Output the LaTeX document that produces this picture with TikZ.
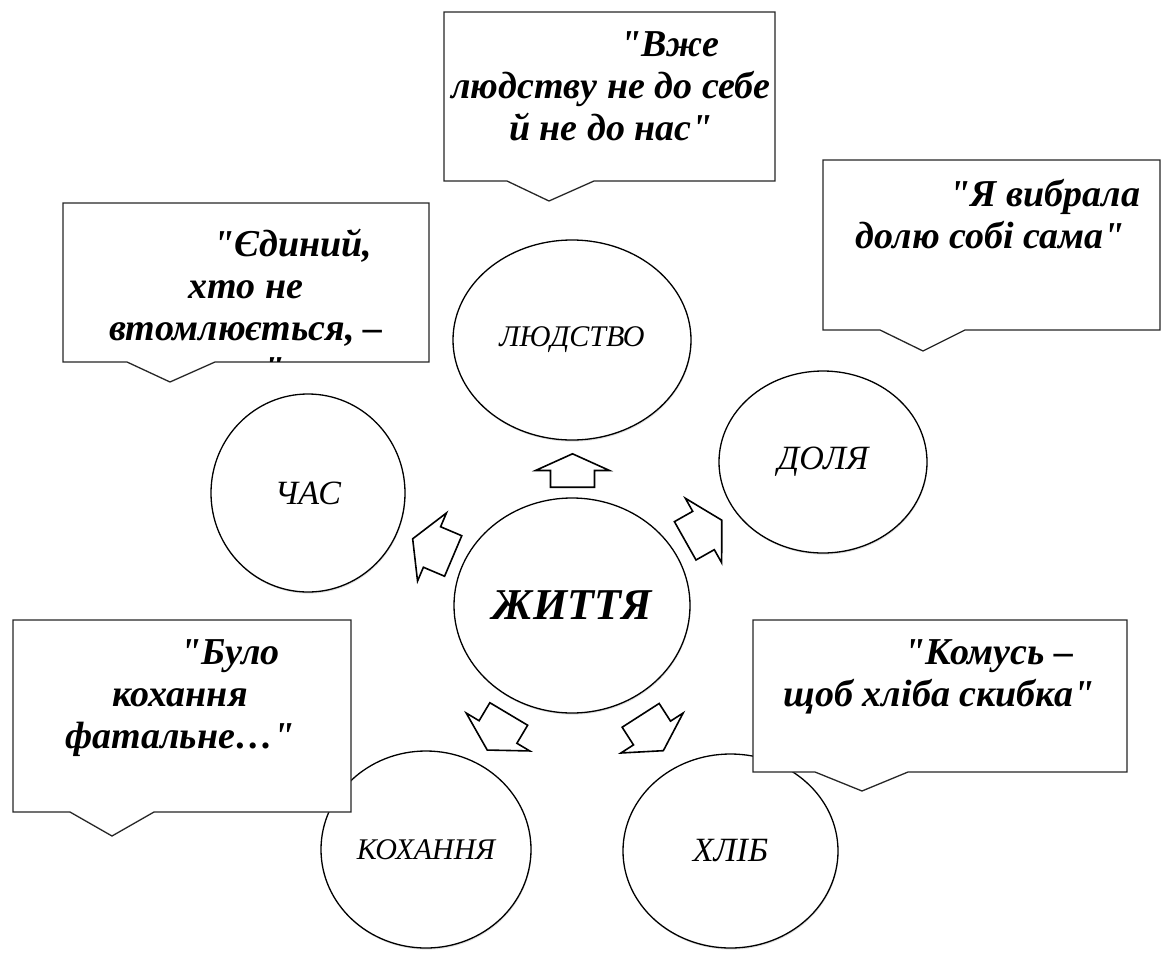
\documentclass[tikz,border=0pt]{standalone}
\usepackage{fontspec}
\setmainfont{Liberation Serif}[Ligatures=TeXOff]
\usetikzlibrary{shapes.geometric,shadows}
\newcommand\blkarrow[5]{%
  \draw[blk, shift={(#1,#2)}, rotate=#3] (#4,0) -- (0,37) -- (0,22) -- (-#5,22) -- (-#5,-22) -- (0,-22) -- (0,-37) -- cycle;}
\begin{document}
\begin{tikzpicture}[x=1pt,y=-1pt,
  circ/.style={ellipse, draw=black, line width=1.3pt, fill=white, inner sep=0pt,
    drop shadow={shadow xshift=0.6pt, shadow yshift=-1.6pt, opacity=0.25}},
  calloutbox/.style={draw=black!85, line width=1.3pt, fill=white, line join=miter},
  qtext/.style={font=\bfseries\itshape\fontsize{38}{42}\selectfont, align=center, inner sep=0pt, anchor=north},
  blk/.style={draw=black, line width=1.6pt, fill=white, line join=miter}
]
\useasboundingbox (0,0) rectangle (1165,959);

% circles
\node[circ, minimum width=238pt, minimum height=200pt] (ludstvo) at (572,340) {\fontsize{30}{36}\selectfont\itshape ЛЮДСТВО};
\node[circ, minimum width=194pt, minimum height=198pt] (chas) at (308,493) {\fontsize{34}{40}\selectfont\itshape ЧАС};
\node[circ, minimum width=208pt, minimum height=182pt] (dolia) at (823,462) {\fontsize{34}{40}\selectfont\itshape ДОЛЯ};
\node[circ, minimum width=236pt, minimum height=215pt] (zhyttia) at (572,605.5) {\fontsize{44}{52}\selectfont\bfseries\itshape ЖИТТЯ};
\node[circ, minimum width=210pt, minimum height=197pt] (kokhannia) at (426,849.5) {\fontsize{30}{36}\selectfont\itshape КОХАННЯ};
\node[circ, minimum width=215pt, minimum height=194pt] (khlib) at (730.5,851) {\fontsize{34}{40}\selectfont\itshape ХЛІБ};

% block arrows
\blkarrow{572.5}{470.5}{90}{16.7}{16.7}
\blkarrow{432}{547}{157}{21}{23}
\blkarrow{703.5}{530.5}{29.4}{21}{21}
\blkarrow{498}{732}{-120.8}{21}{21}
\blkarrow{652}{733}{-57.3}{21}{21}

% callouts
\draw[calloutbox] (444,12) -- (775,12) -- (775,181) -- (594,181) -- (549,201) -- (507,181) -- (444,181) -- cycle;
\node[qtext] (q1) at (611,31) {\hspace*{118pt}"Вже\\людству не до себе\\й не до нас"};

\draw[calloutbox] (63,203) -- (429,203) -- (429,362) -- (215,362) -- (170,382) -- (127,362) -- (63,362) -- cycle;
\begin{scope}
  \clip (64,204) rectangle (428,361.3);
  \node[qtext] (q2) at (246,229) {\hspace*{94pt}"Єдиний,\\хто не\\втомлюється, –\\час"};
\end{scope}

\draw[calloutbox] (823,160) -- (1160,160) -- (1160,330) -- (965,330) -- (923,351) -- (880,330) -- (823,330) -- cycle;
\node[qtext] (q3) at (990,179) {\hspace*{110pt}"Я вибрала\\долю собі сама"};

\draw[calloutbox] (13,620) -- (351,620) -- (351,812) -- (154,812) -- (112,836) -- (70,812) -- (13,812) -- cycle;
\node[qtext] (q4) at (180,639) {\hspace*{100pt}"Було\\кохання\\фатальне…"};

\draw[calloutbox] (753,620) -- (1127,620) -- (1127,772) -- (908,772) -- (862,791) -- (815,772) -- (753,772) -- cycle;
\node[qtext] (q5) at (939,639) {\hspace*{100pt}"Комусь –\\щоб хліба скибка"};
\end{tikzpicture}
\end{document}
